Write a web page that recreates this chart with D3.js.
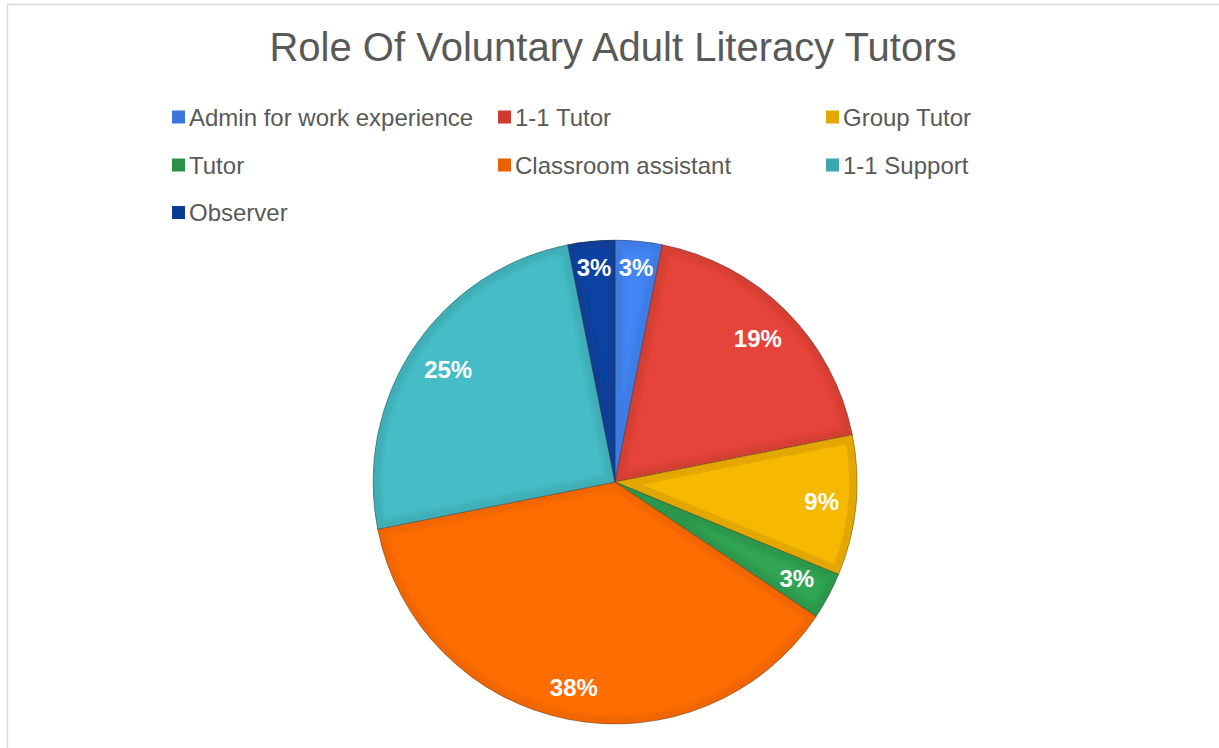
<!DOCTYPE html>
<html>
<head>
<meta charset="utf-8">
<script src="https://cdn.jsdelivr.net/npm/d3@7"></script>
<style>
  html, body { margin: 0; padding: 0; background: #ffffff; }
  svg { display: block; }
  text { font-family: "Liberation Sans", Arial, sans-serif; }
</style>
</head>
<body>
<div id="chart"></div>
<script>
// Role categories in drawing order (clockwise from 12 o'clock)
const roles = [
  "Admin for work experience",
  "1-1 Tutor",
  "Group Tutor",
  "Tutor",
  "Classroom assistant",
  "1-1 Support",
  "Observer"
];
// Number of volunteers in each role
const counts = [1, 6, 3, 1, 12, 8, 1];
// Slice fill colours
const fills = ["#4285f4", "#e6443a", "#f7b900", "#31a552", "#ff6d01", "#46bdc6", "#0c43a3"];
// Edge (bevel) colours
const edges = ["#3a76dc", "#cf3a31", "#e2a700", "#2b9148", "#e96200", "#3ba8b1", "#0a3a91"];

const W = 1219, H = 748;
const cx = 615, cy = 482, R = 242;

const svg = d3.select("#chart").append("svg")
  .attr("width", W).attr("height", H);

// Chart frame
svg.append("rect")
  .attr("x", 7.5).attr("y", 4.5)
  .attr("width", W + 40).attr("height", H + 40)
  .attr("fill", "#ffffff")
  .attr("stroke", "#d9d9d9")
  .attr("stroke-width", 1.5);

// Title
svg.append("text")
  .attr("x", 613).attr("y", 61)
  .attr("text-anchor", "middle")
  .attr("font-size", 40)
  .attr("fill", "#595959")
  .text("Role Of Voluntary Adult Literacy Tutors");

// Legend: three columns, filled row by row
const legendX = [172, 498, 826];
const legendY = [125.5, 173.5, 221];
const lg = svg.append("g");
roles.forEach((r, i) => {
  const col = i % 3, row = Math.floor(i / 3);
  const g = lg.append("g").attr("transform", `translate(${legendX[col]},${legendY[row]})`);
  g.append("rect")
    .attr("x", 0).attr("y", -15)
    .attr("width", 13).attr("height", 13)
    .attr("fill", edges[i]);
  g.append("text")
    .attr("x", 17).attr("y", 0)
    .attr("font-size", 24)
    .attr("fill", "#595959")
    .text(r);
});

// Pie
const total = d3.sum(counts);
const pie = d3.pie().sort(null).value(d => d)(counts);
const arc = d3.arc().innerRadius(0).outerRadius(R);

const defs = svg.append("defs");
defs.append("filter").attr("id", "soft")
  .append("feGaussianBlur").attr("stdDeviation", 2.2);

const pg = svg.append("g").attr("transform", `translate(${cx},${cy})`);

pie.forEach((p, i) => {
  const path = arc(p);
  defs.append("clipPath").attr("id", "clip" + i)
    .append("path").attr("d", path);

  const g = pg.append("g");
  g.append("path").attr("d", path).attr("fill", fills[i]);

  if (i === 2) {
    // Highlighted slice: solid darker rim
    g.append("path").attr("d", path)
      .attr("fill", "none")
      .attr("stroke", edges[i])
      .attr("stroke-width", 16)
      .attr("stroke-linejoin", "miter")
      .attr("clip-path", `url(#clip${i})`);
  } else {
    // Soft bevel along the slice edges
    g.append("g").attr("clip-path", `url(#clip${i})`)
      .append("path").attr("d", path)
      .attr("fill", "none")
      .attr("stroke", edges[i])
      .attr("stroke-width", 16)
      .attr("stroke-opacity", 0.7)
      .attr("filter", "url(#soft)");
  }
  g.append("path").attr("d", path)
    .attr("fill", "none")
    .attr("stroke", "rgba(40,40,40,0.45)")
    .attr("stroke-width", 0.8);
});

// Percentage labels placed at the inside end of each slice
const labelR = R - 16;
pie.forEach((p, i) => {
  const pct = Math.round(counts[i] / total * 100) + "%";
  const t = pg.append("text")
    .attr("font-size", 24)
    .attr("font-weight", "bold")
    .attr("fill", "#ffffff")
    .attr("text-anchor", "middle")
    .attr("dominant-baseline", "central")
    .text(pct);
  const bb = t.node().getBBox();
  const a = bb.width / 2, b = 17 / 2 + 1;
  const mid = (p.startAngle + p.endAngle) / 2;
  const s = Math.abs(Math.sin(mid)), c = Math.abs(Math.cos(mid));
  // Solve (d*s + a)^2 + (d*c + b)^2 = labelR^2 for d
  const B = 2 * (a * s + b * c), C = a * a + b * b - labelR * labelR;
  const d = (-B + Math.sqrt(B * B - 4 * C)) / 2;
  t.attr("x", d * Math.sin(mid)).attr("y", -d * Math.cos(mid) - 1);
});
</script>
</body>
</html>
